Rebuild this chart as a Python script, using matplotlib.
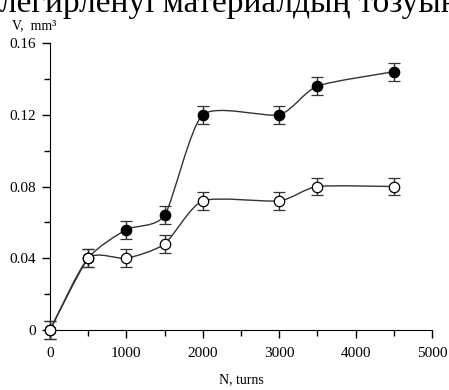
import numpy as np
from matplotlib import pyplot as plt
from matplotlib.path import Path
from matplotlib.patches import PathPatch

plt.rcParams["font.family"] = ["Liberation Serif", "DejaVu Serif"]
plt.rcParams["savefig.dpi"] = 100

# wear volume vs number of turns
turns = [0, 500, 1000, 1500, 2000, 3000, 3500, 4500]
v_filled = [0.0, 0.040, 0.056, 0.064, 0.120, 0.120, 0.136, 0.144]
v_open = [0.0, 0.040, 0.040, 0.048, 0.072, 0.072, 0.080, 0.080]
v_err = 0.005

x_ticks = [0, 1000, 2000, 3000, 4000, 5000]
y_ticks = [0, 0.04, 0.08, 0.12, 0.16]
y_ticklabels = ["0", "0.04", "0.08", "0.12", "0.16"]


def smooth_path(x, y, k=9.0):
    # Catmull-Rom style curve through the points, as cubic bezier segments
    x = np.asarray(x, float)
    y = np.asarray(y, float)
    verts = [(x[0], y[0])]
    codes = [Path.MOVETO]
    n = len(x)
    for i in range(n - 1):
        p0 = (x[max(i - 1, 0)], y[max(i - 1, 0)])
        p1 = (x[i], y[i])
        p2 = (x[i + 1], y[i + 1])
        p3 = (x[min(i + 2, n - 1)], y[min(i + 2, n - 1)])
        c1 = (p1[0] + (p2[0] - p0[0]) / k, p1[1] + (p2[1] - p0[1]) / k)
        c2 = (p2[0] - (p3[0] - p1[0]) / k, p2[1] - (p3[1] - p1[1]) / k)
        verts += [c1, c2, p2]
        codes += [Path.CURVE4] * 3
    return Path(verts, codes)


fig = plt.figure(figsize=(4.49, 3.90))
ax = fig.add_axes([0.1114, 0.1538, 0.8508, 0.7359])

for vals, face in [(v_filled, "black"), (v_open, "white")]:
    ax.add_patch(PathPatch(smooth_path(turns, vals), fill=False,
                           edgecolor="#333333", lw=1.0, clip_on=False))
    ax.errorbar(turns, vals, yerr=v_err, fmt="o", ms=7.5, mfc=face,
                mec="black", mew=0.9, ecolor="#333333", elinewidth=1.0,
                capsize=4.5, capthick=1.0, clip_on=False, zorder=3)

ax.set_xlim(0, 5000)
ax.set_ylim(0, 0.16)
ax.set_xticks(x_ticks)
ax.set_xticks([500, 1500, 2500, 3500, 4500], minor=True)
ax.set_yticks(y_ticks)
ax.set_yticklabels(y_ticklabels)
ax.set_yticks([0.02, 0.06, 0.10, 0.14], minor=True)
ax.spines["top"].set_visible(False)
ax.spines["right"].set_visible(False)
ax.tick_params(which="both", direction="out", labelsize=11, width=1.0)
ax.tick_params(which="major", length=6)
ax.tick_params(which="minor", length=4)
ax.tick_params(axis="x", which="major", pad=6)
ax.tick_params(axis="y", which="major", pad=4)
ax.set_xlabel("N, turns", fontsize=10, labelpad=10)

fig.text(0.027, 0.926, "V,  mm³", fontsize=10, ha="left", va="baseline")
fig.text(0.0, 0.97, "легирленуі материалдың тозуын", fontsize=24,
         ha="left", va="baseline")

plt.savefig("out.png")
